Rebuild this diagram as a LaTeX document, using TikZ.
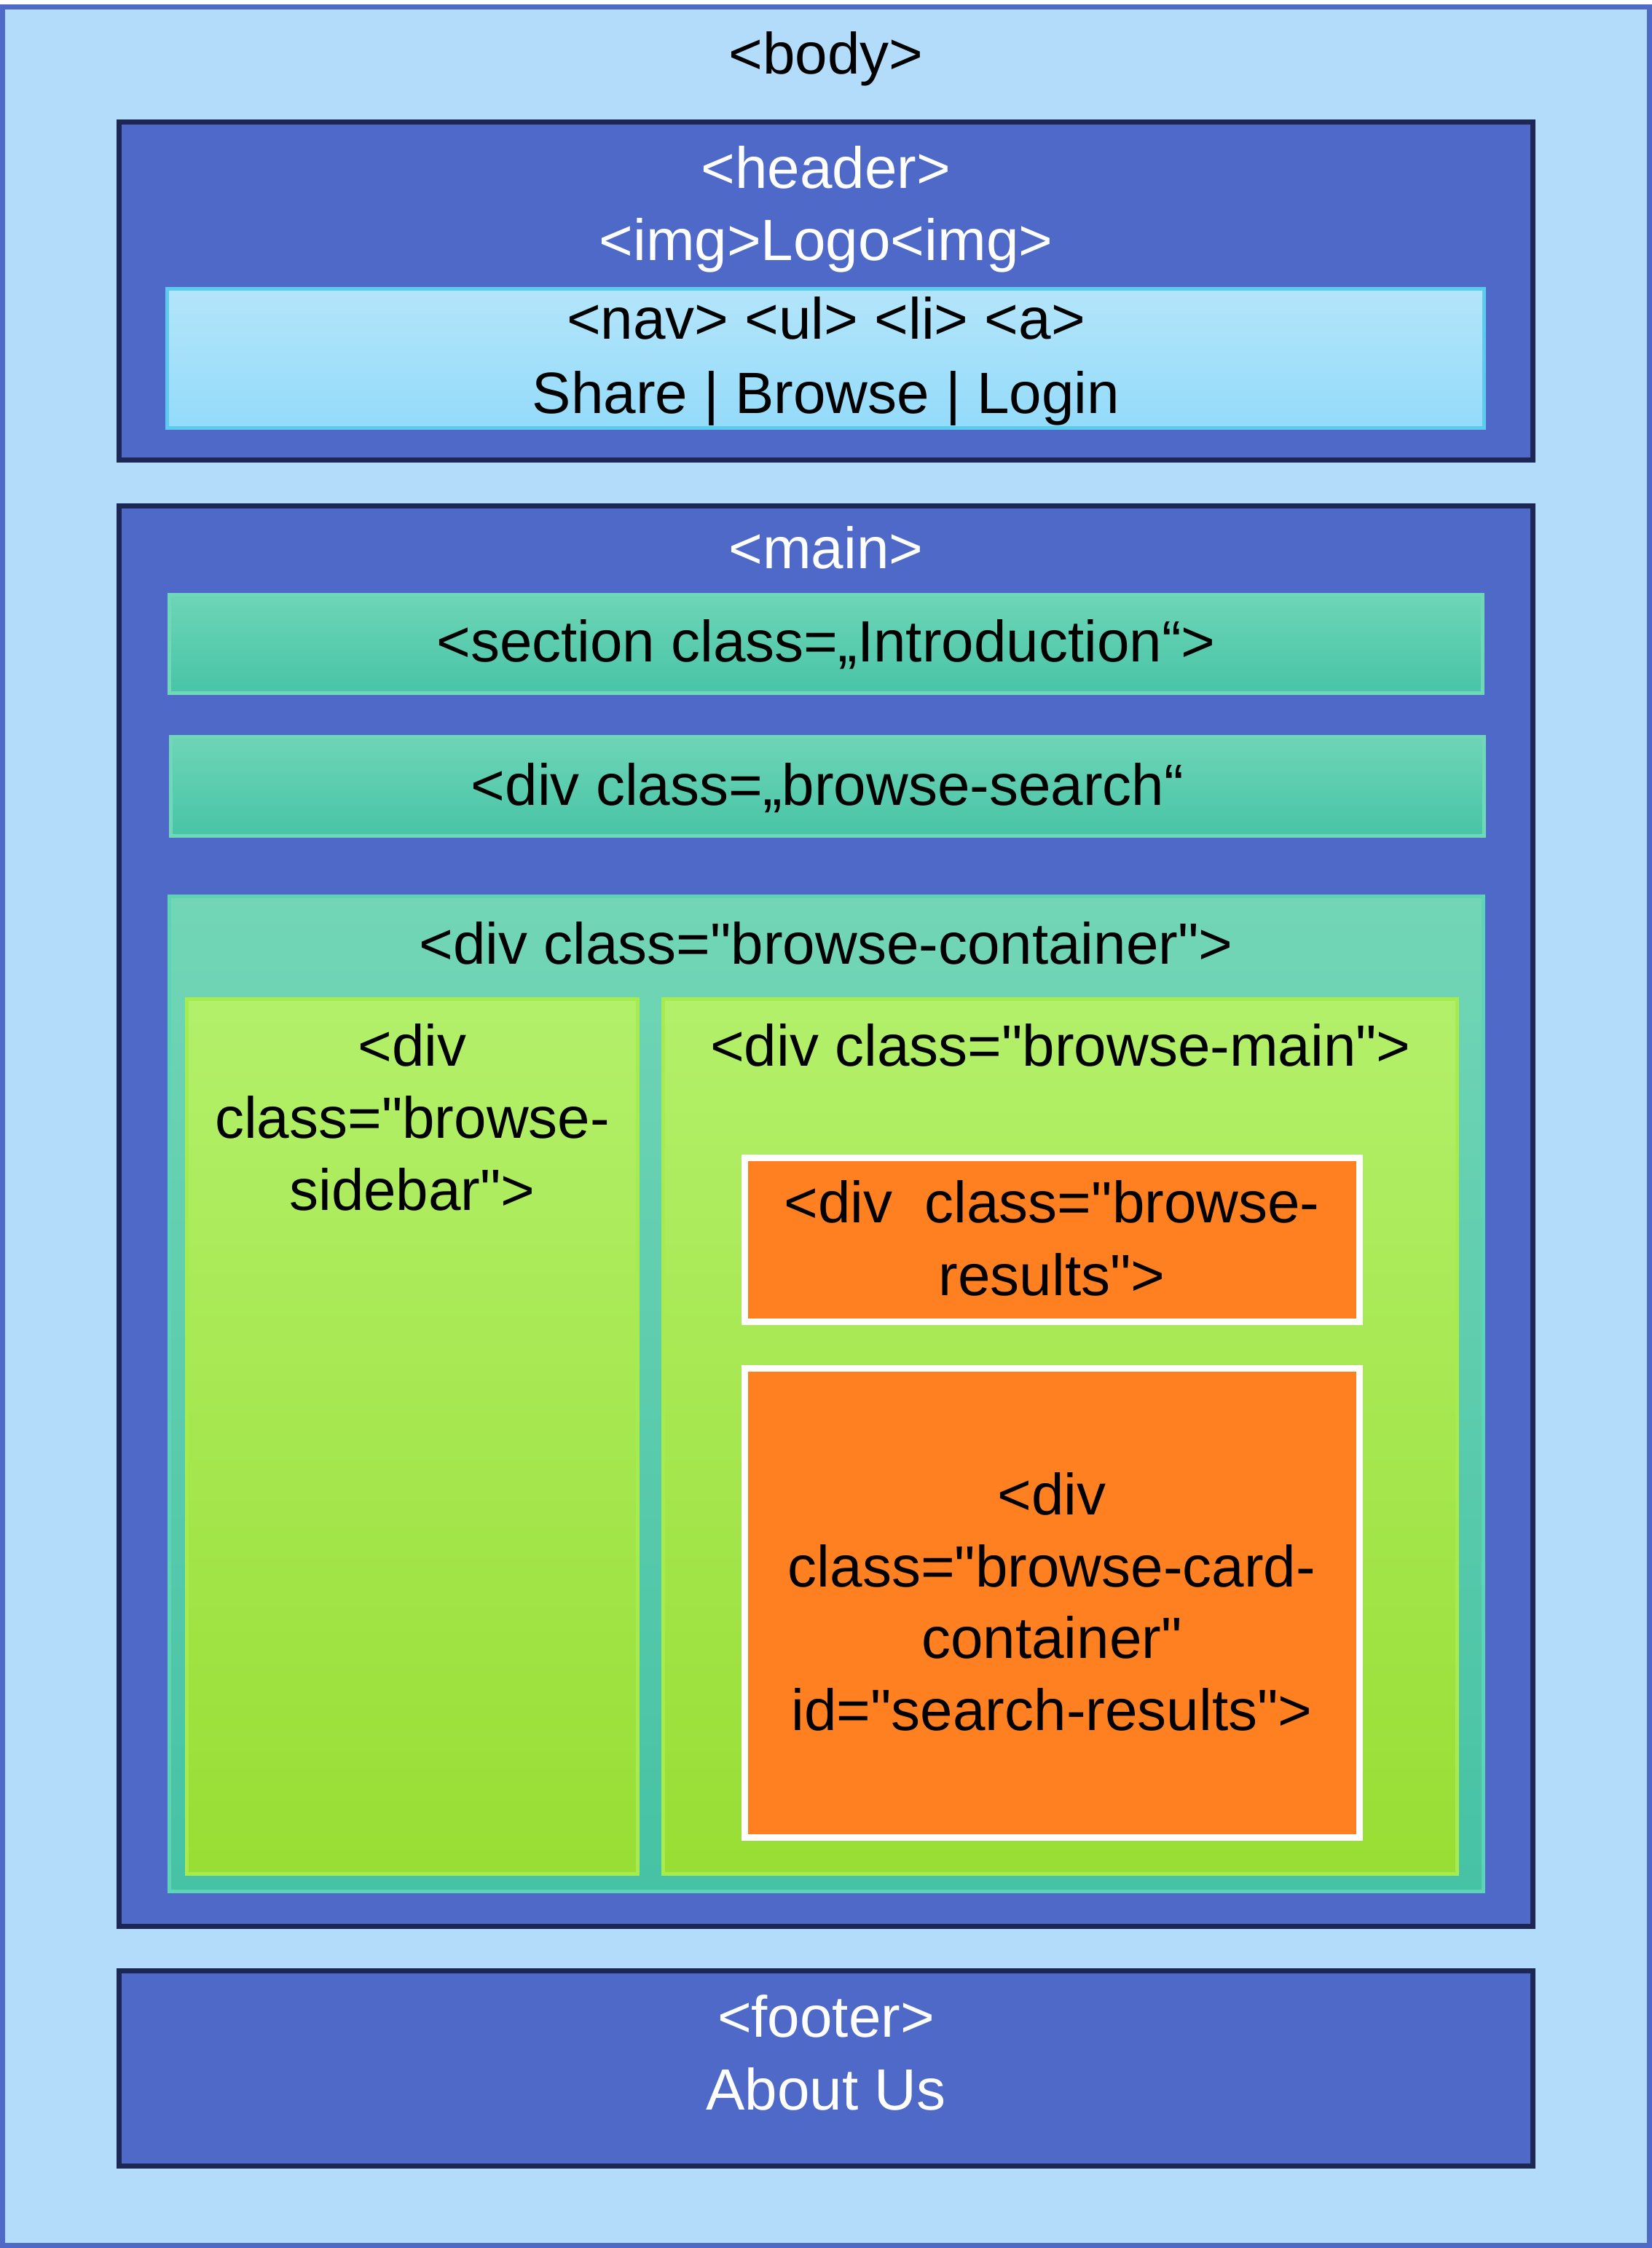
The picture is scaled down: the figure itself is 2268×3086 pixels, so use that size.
\documentclass[tikz,border=0pt]{standalone}
\usepackage{fontspec}
\setmainfont{Liberation Sans}[Ligatures=TeXOff]
\newcommand{\dq}{\symbol{34}}
\definecolor{bodyfill}{HTML}{B3DBFA}
\definecolor{bodyline}{HTML}{4F69C6}
\definecolor{blockfill}{HTML}{4F69C9}
\definecolor{blockline}{HTML}{1C2754}
\definecolor{navline}{HTML}{5DCBEF}
\definecolor{navtop}{HTML}{B3E5FA}
\definecolor{navbot}{HTML}{94DBFA}
\definecolor{tealline}{HTML}{6ED8B8}
\definecolor{tealtop}{HTML}{6ED5B7}
\definecolor{tealmid}{HTML}{58D5B4}
\definecolor{tealbot}{HTML}{48C4A6}
\definecolor{contline}{HTML}{5ED4B6}
\definecolor{conttop}{HTML}{72D6B6}
\definecolor{contbot}{HTML}{46C2A4}
\definecolor{greenline}{HTML}{A6EC4F}
\definecolor{greentop}{HTML}{B3F06A}
\definecolor{greenbot}{HTML}{98DE34}
\definecolor{orangefill}{HTML}{FF8021}
\begin{document}
\begin{tikzpicture}[x=0.25pt,y=-0.25pt,
  bodybox/.style={draw=bodyline,line width=1.75pt,fill=bodyfill},
  blockbox/.style={draw=blockline,line width=1.75pt,fill=blockfill},
  navbox/.style={draw=navline,line width=1.25pt,top color=navtop,bottom color=navbot},
  tealbox/.style={draw=tealline,line width=1.25pt,top color=tealtop,middle color=tealmid,bottom color=tealbot},
  contbox/.style={draw=contline,line width=1.25pt,top color=conttop,bottom color=contbot},
  greenbox/.style={draw=greenline,line width=1.25pt,top color=greentop,bottom color=greenbot},
  orangebox/.style={draw=white,line width=2.25pt,fill=orangefill},
  lbl/.style={inner sep=0pt,anchor=base,font=\fontsize{20}{25}\selectfont,text=black},
  wlbl/.style={lbl,text=white}]
\useasboundingbox (0,0) rectangle (2268,3086);
\fill[white] (0,0) rectangle (2268,3086);
% body
\path[bodybox] (3.5,9.5) rectangle (2264.5,3082.5);
\node[lbl] (tbody) at (1134,101) {<body>};
% header
\path[blockbox] (163.5,167.5) rectangle (2104.5,631.5);
\node[wlbl] (theader) at (1134,258) {<header>};
\node[wlbl] (timg) at (1134,357) {<img>Logo<img>};
\path[navbox] (229.5,396.5) rectangle (2037.5,587.5);
\node[lbl] (tnav) at (1134,465) {<nav> <ul> <li> <a>};
\node[lbl] (tlinks) at (1134,567) {Share | Browse | Login};
% main
\path[blockbox] (163.5,694.5) rectangle (2104.5,2644.5);
\node[wlbl] (tmain) at (1134,780) {<main>};
\path[tealbox] (232.5,816.5) rectangle (2035.5,951.5);
\node[lbl] (tsection) at (1134,908) {<section class=„Introduction“>};
\path[tealbox] (234.5,1011.5) rectangle (2037.5,1147.5);
\node[lbl] (tsearch) at (1136,1105) {<div class=„browse-search“};
\path[contbox] (232.5,1230.5) rectangle (2036.5,2596.5);
\node[lbl] (tcont) at (1134,1323) {<div class=\dq browse-container\dq>};
\path[greenbox] (256.5,1371.5) rectangle (875.5,2572.5);
\node[lbl] (tside1) at (566,1463) {<div};
\node[lbl] (tside2) at (566,1562) {class=\dq browse-};
\node[lbl] (tside3) at (566,1661) {sidebar\dq>};
\path[greenbox] (910.5,1371.5) rectangle (2000.5,2572.5);
\node[lbl] (tbmain) at (1456,1463) {<div class=\dq browse-main\dq>};
\path[orangebox] (1022.5,1589.5) rectangle (1866.5,1814.5);
\node[lbl] (tres1) at (1444,1678) {<div \ class=\dq browse-};
\node[lbl] (tres2) at (1444,1778) {results\dq>};
\path[orangebox] (1022.5,1878.5) rectangle (1866.5,2522.5);
\node[lbl] (tcard1) at (1444,2079) {<div};
\node[lbl] (tcard2) at (1444,2178) {class=\dq browse-card-};
\node[lbl] (tcard3) at (1444,2276) {container\dq};
\node[lbl] (tcard4) at (1444,2375) {id=\dq search-results\dq>};
% footer
\path[blockbox] (163.5,2705.5) rectangle (2104.5,2973.5);
\node[wlbl] (tfooter) at (1134,2796) {<footer>};
\node[wlbl] (tabout) at (1134,2896) {About Us};
\end{tikzpicture}
\end{document}
